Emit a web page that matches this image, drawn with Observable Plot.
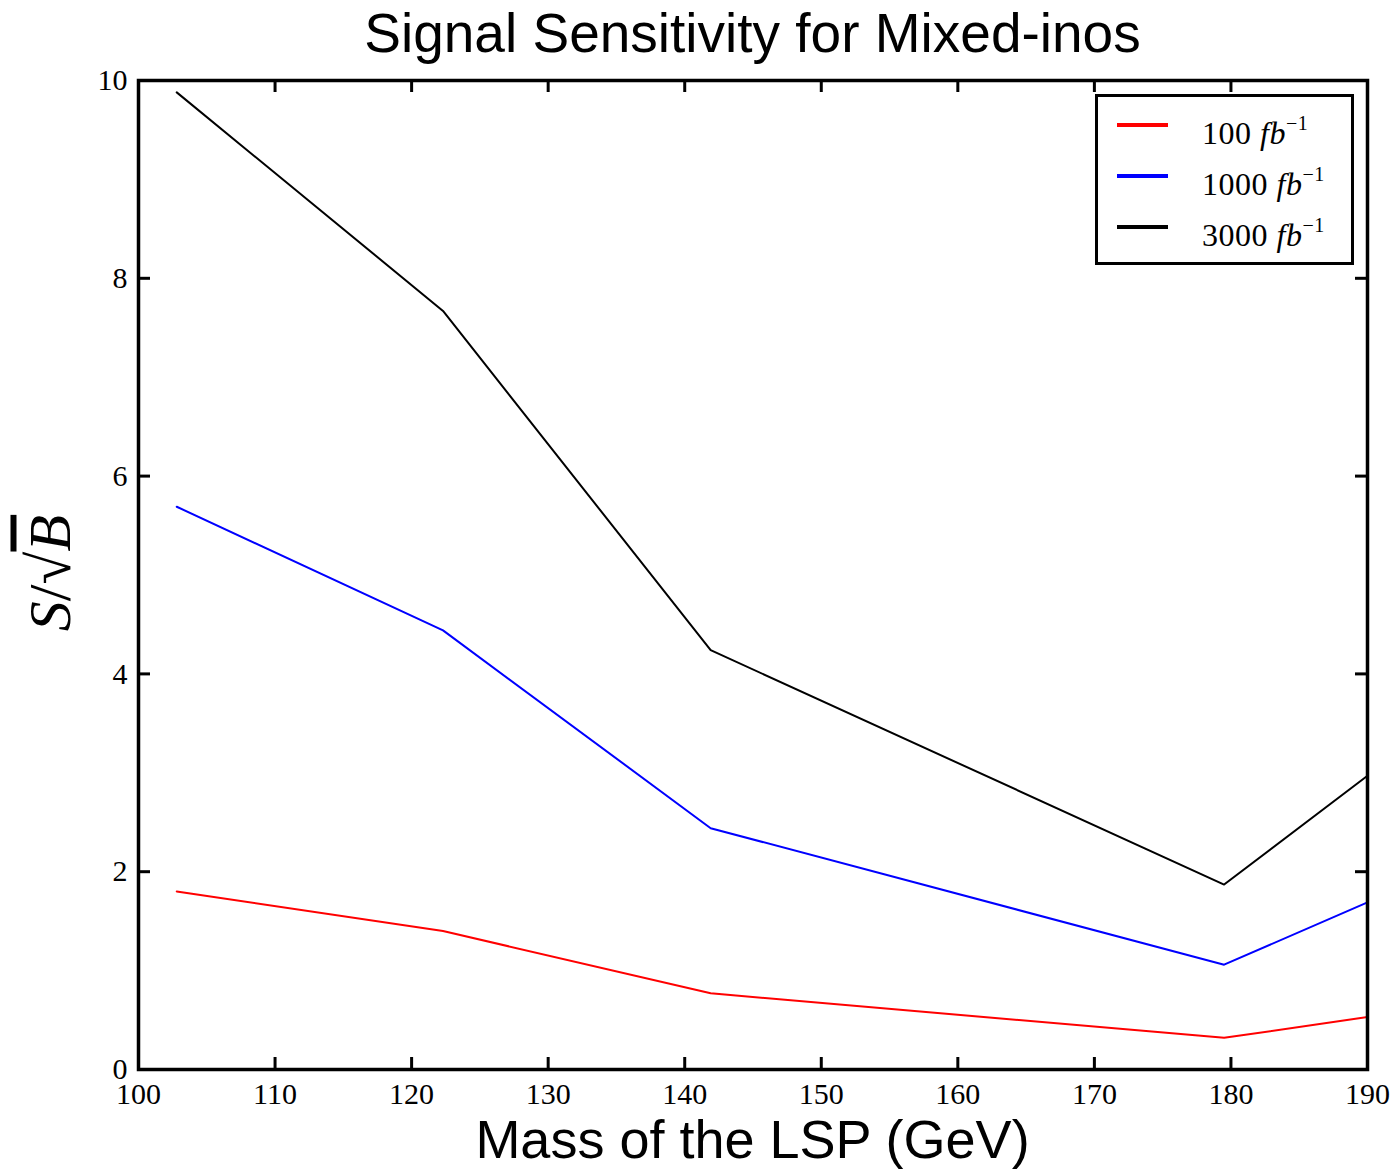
<!DOCTYPE html>
<html>
<head>
<meta charset="utf-8">
<script src="https://cdn.jsdelivr.net/npm/d3@7"></script>
<script src="https://cdn.jsdelivr.net/npm/@observablehq/plot@0.6"></script>
<style>
  html, body { margin: 0; padding: 0; background: white; }
  #wrap { position: relative; width: 1396px; height: 1169px; overflow: hidden; background: white; }
  #title { position: absolute; left: 0; top: 0; width: 1229px; height: 66px; line-height: 66px; padding-left: 138px; padding-right: 29px; text-align: center;
           font-family: "Liberation Sans", Arial, sans-serif; font-size: 55px; color: #000; white-space: nowrap; z-index: 2; }
  #chart { position: absolute; left: 0; top: 60px; }
  #xlabel { position: absolute; left: 138px; width: 1229px; top: 1109px; line-height: 60px; text-align: center;
            font-family: "Liberation Sans", Arial, sans-serif; font-size: 54px; color: #000; white-space: nowrap; z-index: 2; }
  #ylabel { position: absolute; left: 50px; top: 573px; transform: translate(-50%, -50%) rotate(-90deg);
            font-family: "Liberation Serif", serif; font-size: 60px; color: #000; white-space: nowrap; z-index: 2; }
  #legend { position: absolute; left: 1095px; top: 94px; width: 253px; height: 165px; border: 3.5px solid #000; background: white; z-index: 2; }
  .lg-line { position: absolute; left: 19px; width: 51px; height: 3.5px; }
  .lg-text { position: absolute; left: 104px; font-family: "Liberation Serif", serif; font-size: 32px; line-height: 32px; color: #000; white-space: nowrap; letter-spacing: 0.5px; }
  .lg-text sup { font-size: 20px; position: relative; top: -2px; }
</style>
</head>
<body>
<div id="wrap">
  <div id="title"></div>
  <div id="chart"></div>
  <div id="xlabel"></div>
  <div id="ylabel"><i>S</i>/√<span style="text-decoration: overline;"><i>B</i></span></div>
  <div id="legend"></div>
</div>
<script>
// ---- data ----
const titleText = "Signal Sensitivity for Mixed-inos";
const xLabelText = "Mass of the LSP (GeV)";
const mass = [102.8, 122.3, 141.9, 179.5, 190];
const s100  = [1.80, 1.40, 0.77, 0.32, 0.53];
const s1000 = [5.69, 4.44, 2.44, 1.06, 1.69];
const s3000 = [9.88, 7.67, 4.24, 1.87, 2.97];
const seriesNames = ["100", "1000", "3000"];
const seriesColors = ["#ff0000", "#0000ff", "#000000"];
const xTicks = [100, 110, 120, 130, 140, 150, 160, 170, 180, 190];
const yTicks = [0, 2, 4, 6, 8, 10];

const seriesValues = [s100, s1000, s3000];
const rows = [];
seriesNames.forEach((name, i) => {
  mass.forEach((m, j) => rows.push({series: name, mass: m, value: seriesValues[i][j]}));
});

document.getElementById("title").textContent = titleText;
document.getElementById("xlabel").textContent = xLabelText;

// tick length: 12px expressed in data units
const tickLenY = 12 / 98.9;
const tickLenX = 12 / 13.656;

const chart = Plot.plot({
  width: 1396,
  height: 1109,
  marginLeft: 138,
  marginRight: 29,
  marginTop: 20,
  marginBottom: 100,
  x: {domain: [100, 190]},
  y: {domain: [0, 10]},
  color: {domain: seriesNames, range: seriesColors},
  style: {fontFamily: "'Liberation Serif', serif", fontSize: "30px", color: "#000", background: "transparent"},
  marks: [
    Plot.line(rows, {x: "mass", y: "value", z: "series", stroke: "series", strokeWidth: 2}),
    Plot.ruleX(xTicks, {x: d => d, y1: 0, y2: tickLenY, strokeWidth: 3}),
    Plot.ruleX(xTicks, {x: d => d, y1: 10, y2: 10 - tickLenY, strokeWidth: 3}),
    Plot.ruleY(yTicks, {y: d => d, x1: 100, x2: 100 + tickLenX, strokeWidth: 3}),
    Plot.ruleY(yTicks, {y: d => d, x1: 190, x2: 190 - tickLenX, strokeWidth: 3}),
    Plot.frame({stroke: "#000", strokeWidth: 3.5}),
    Plot.axisX({ticks: xTicks, tickSize: 0, tickPadding: 13, label: null, fontSize: 30, tickFormat: d => String(d)}),
    Plot.axisY({ticks: yTicks, tickSize: 0, tickPadding: 11, label: null, fontSize: 30, tickFormat: d => String(d)})
  ]
});
document.getElementById("chart").appendChild(chart);

// legend
const legend = document.getElementById("legend");
const rowTops = [28, 79, 130];
seriesNames.forEach((name, i) => {
  const line = document.createElement("div");
  line.className = "lg-line";
  line.style.top = (rowTops[i] - 2) + "px";
  line.style.background = seriesColors[i];
  legend.appendChild(line);
  const txt = document.createElement("div");
  txt.className = "lg-text";
  txt.style.top = (rowTops[i] - 16) + "px";
  txt.innerHTML = name + " <i>fb</i><sup>−1</sup>";
  legend.appendChild(txt);
});
</script>
</body>
</html>
